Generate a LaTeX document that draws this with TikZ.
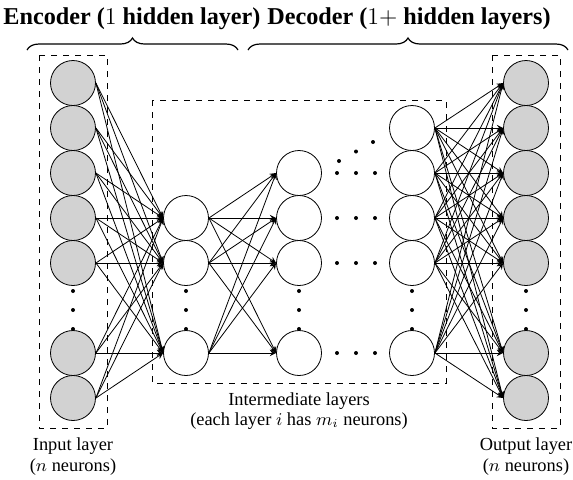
\documentclass[tikz,border=0pt]{standalone}
\usepackage{fontspec}
\setmainfont{Liberation Serif}
\usetikzlibrary{decorations.pathreplacing}

\tikzset{
  neuron/.style={circle, draw, inner sep=0pt, minimum size=22.5pt, fill=white},
  ioneuron/.style={neuron, fill=gray!35},
  layerbox/.style={draw, dashed},
  titletext/.style={font=\fontsize{12.1}{14}\selectfont\bfseries, anchor=base, inner sep=0pt},
  captext/.style={font=\fontsize{9.2}{11}\selectfont, anchor=base, inner sep=0pt},
}

\begin{document}
\begin{tikzpicture}[x=0.5pt, y=-0.5pt, >=stealth]
    \useasboundingbox (0,0) rectangle (573,479);

    % dashed boxes
    \draw[layerbox] (39,55) rectangle (107,428);
    \draw[layerbox] (152,100) rectangle (446,383);
    \draw[layerbox] (492,55) rectangle (560,428);

    % neurons
    \foreach \s in {0,1,2,3,4,6,7}
        \node[ioneuron] (in\s) at (73,{83+45*\s}) {};
    \foreach \s in {3,4,6}
        \node[neuron] (enc\s) at (186,{83+45*\s}) {};
    \foreach \s in {2,3,4,6}
        \node[neuron] (mida\s) at (299,{83+45*\s}) {};
    \foreach \s in {1,2,3,4,6}
        \node[neuron] (midb\s) at (412,{83+45*\s}) {};
    \foreach \s in {0,1,2,3,4,6,7}
        \node[ioneuron] (out\s) at (526,{83+45*\s}) {};

    % connections
    \foreach \i in {0,1,2,3,4,6,7}
        \foreach \j in {3,4,6}
            \draw[->] (in\i.east) -- (enc\j.west);
    \foreach \i in {3,4,6}
        \foreach \j in {2,3,4,6}
            \draw[->] (enc\i.east) -- (mida\j.west);
    \foreach \i in {1,2,3,4,6}
        \foreach \j in {0,1,2,3,4,6,7}
            \draw[->] (midb\i.east) -- (out\j.west);

    % vertical dots
    \foreach \x in {73,186,299,412,526}
        \foreach \y in {291,310,329}
            \fill (\x,\y) circle (1pt);
    % horizontal dots
    \foreach \s in {2,3,4,6}
        \foreach \x in {337,356,375}
            \fill (\x,{83+45*\s}) circle (1pt);
    \fill (339,161) circle (1pt);
    \fill (356,151.5) circle (1pt);
    \fill (373,142) circle (1pt);

    % braces and titles
    \draw[semithick, decorate, decoration={brace, amplitude=6pt}] (27,50) -- (238,50);
    \draw[semithick, decorate, decoration={brace, amplitude=6pt}] (248,50) -- (568,50);
    \node[titletext] (enctitle) at (132,24) {Encoder ($1$ hidden layer)};
    \node[titletext] (dectitle) at (409,24) {Decoder ($1+$ hidden layers)};

    % captions
    \node[captext] (inlab) at (73,450) {Input layer};
    \node[captext] (inlabb) at (73,471) {($n$ neurons)};
    \node[captext] (midlab) at (299,405) {Intermediate layers};
    \node[captext] (midlabb) at (299,425) {(each layer $i$ has $m_i$ neurons)};
    \node[captext] (outlab) at (526,450) {Output layer};
    \node[captext] (outlabb) at (526,471) {($n$ neurons)};
\end{tikzpicture}
\end{document}
